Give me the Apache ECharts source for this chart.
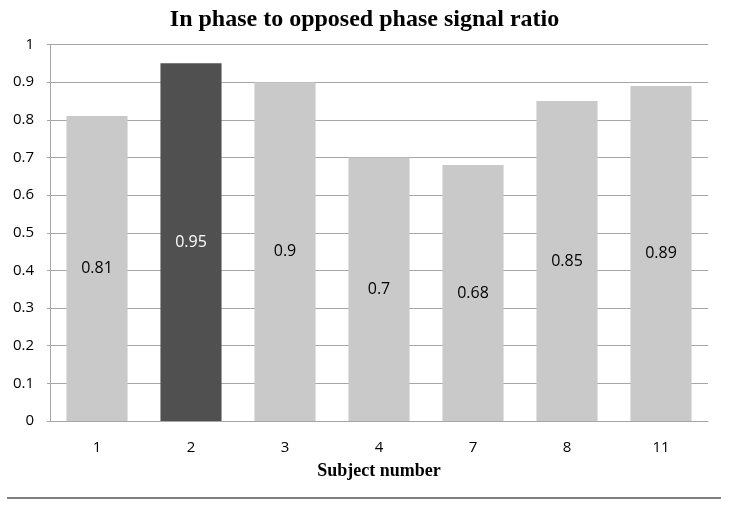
<!DOCTYPE html>
<html><head><meta charset="utf-8">
<script src="https://cdn.jsdelivr.net/npm/echarts@6/dist/echarts.min.js"></script>
<style>html,body{margin:0;padding:0;background:#fff}#c{width:729px;height:507px}</style>
</head><body><div id="c"></div>
<script>
const categories = ['1','2','3','4','7','8','11'];
const ratios = [0.81,0.95,0.9,0.7,0.68,0.85,0.89];
const highlighted = [false,true,false,false,false,false,false];

const chart = echarts.init(document.getElementById('c'), null, {renderer:'canvas'});
const sans = 'Open Sans, Liberation Sans, sans-serif';
const serif = 'Liberation Serif, DejaVu Serif, serif';
chart.setOption({
  animation:false,
  title:{text:'In phase to opposed phase signal ratio',left:'center',top:0,
    textStyle:{fontFamily:serif,fontWeight:'bold',fontSize:24,lineHeight:30,color:'#000'}},
  grid:{left:50,right:21,top:44.5,bottom:86,containLabel:false},
  xAxis:{type:'category',data:categories,
    name:'Subject number',nameLocation:'middle',nameGap:41,
    nameTextStyle:{fontFamily:serif,fontWeight:'bold',fontSize:18,color:'#000'},
    axisLine:{lineStyle:{color:'#a6a6a6',width:1}},axisTick:{show:false},
    axisLabel:{fontFamily:sans,fontSize:15,color:'#000',margin:19}},
  yAxis:{type:'value',min:0,max:1,interval:0.1,
    axisLine:{show:true,lineStyle:{color:'#a6a6a6'}},
    axisTick:{show:true,length:3,lineStyle:{color:'#a6a6a6'}},
    splitLine:{lineStyle:{color:'#a6a6a6',width:1}},
    axisLabel:{fontFamily:sans,fontSize:15,color:'#000',margin:16}},
  series:[{type:'bar',barWidth:'65%',
    data:ratios.map((v,i)=>({value:v,itemStyle:{color:highlighted[i]?'#505050':'#c9c9c9'},
      label:{color:highlighted[i]?'#fff':'#000'}})),
    label:{show:true,position:'inside',fontFamily:sans,fontSize:16}}],
  graphic:[{type:'line',shape:{x1:7,y1:498,x2:721,y2:498},style:{stroke:'#555',lineWidth:1.5}}]
});
</script></body></html>
